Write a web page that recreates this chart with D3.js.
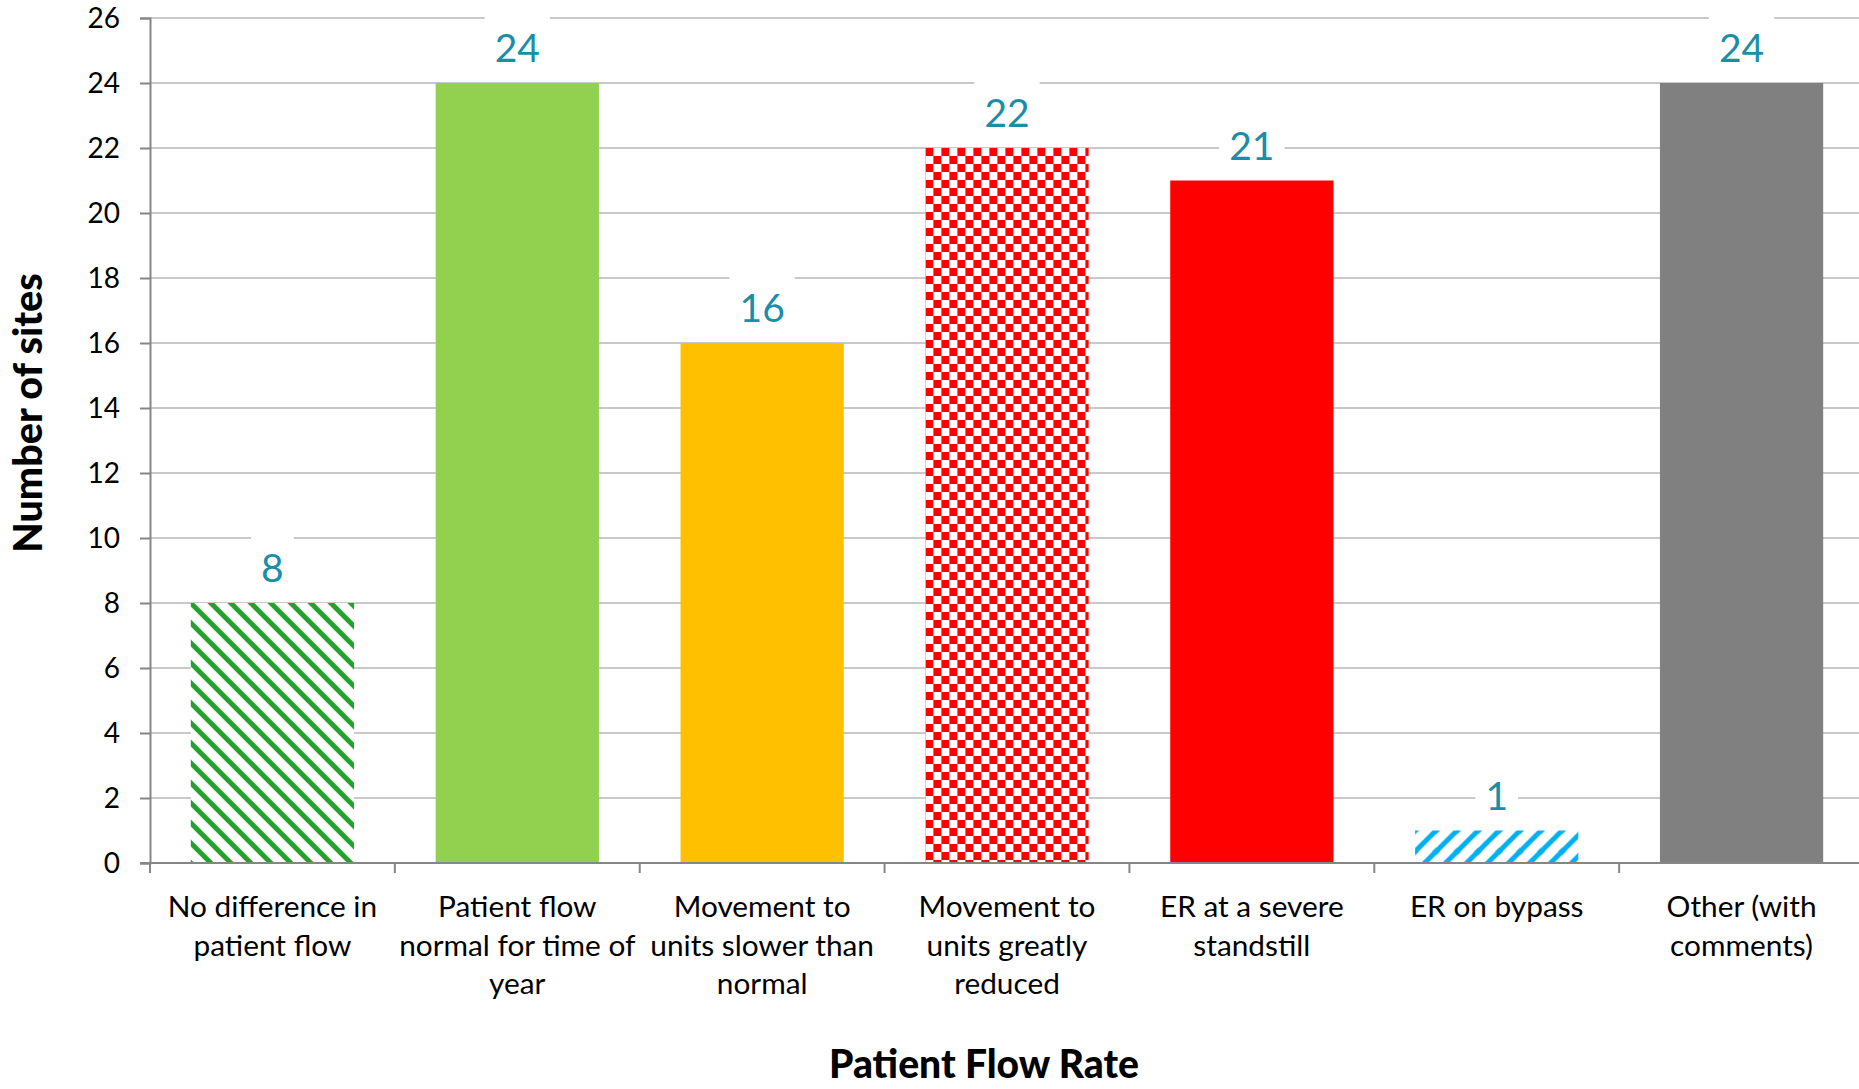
<!DOCTYPE html>
<html>
<head>
<meta charset="utf-8">
<script src="https://cdn.jsdelivr.net/npm/d3@7"></script>
<style>
  html, body { margin: 0; padding: 0; background: #ffffff; }
  svg { display: block; }
</style>
</head>
<body>
<svg id="chart" width="1859" height="1089"></svg>
<script>
// Survey responses: how patient flow was rated at each site
const categories = [
  ["No difference in", "patient flow"],
  ["Patient flow", "normal for time of", "year"],
  ["Movement to", "units slower than", "normal"],
  ["Movement to", "units greatly", "reduced"],
  ["ER at a severe", "standstill"],
  ["ER on bypass"],
  ["Other (with", "comments)"]
];
const values = [8, 24, 16, 22, 21, 1, 24];
const fills = ["url(#stripeGreen)", "#92d050", "#ffc000", "url(#checkRed)", "#ff0000", "url(#stripeBlue)", "#808080"];
const yTicks = [0, 2, 4, 6, 8, 10, 12, 14, 16, 18, 20, 22, 24, 26];
const yTitle = "Number of sites";
const xTitle = "Patient Flow Rate";

const svg = d3.select("#chart");
const font = "Lato, 'Open Sans', sans-serif";

const plotLeft = 150, plotRight = 1864, plotTop = 18, plotBottom = 863;

const x = d3.scaleBand()
  .domain(d3.range(values.length))
  .range([plotLeft, plotRight])
  .paddingInner(1 / 3)
  .paddingOuter(1 / 6);

const y = d3.scaleLinear().domain([0, 26]).range([plotBottom, plotTop]);

// fill patterns
const defs = svg.append("defs");

const pg = defs.append("pattern")
  .attr("id", "stripeGreen").attr("patternUnits", "userSpaceOnUse")
  .attr("width", 20).attr("height", 20)
  .attr("x", x(0)).attr("y", y(values[0]));
pg.append("rect").attr("width", 20).attr("height", 20).attr("fill", "#ffffff");
pg.append("path")
  .attr("d", "M-10,-10L30,30M-10,10L10,30M10,-10L30,10")
  .attr("stroke", "#22a12b").attr("stroke-width", 5);

const pb = defs.append("pattern")
  .attr("id", "stripeBlue").attr("patternUnits", "userSpaceOnUse")
  .attr("width", 21).attr("height", 21)
  .attr("x", x(5)).attr("y", y(values[5]));
pb.append("rect").attr("width", 21).attr("height", 21).attr("fill", "#ffffff");
pb.append("path")
  .attr("d", "M-10,31L31,-10M-10,10.5L10.5,-10M10.5,31L31,10.5")
  .attr("stroke", "#00b0f0").attr("stroke-width", 5);

const pc = defs.append("pattern")
  .attr("id", "checkRed").attr("patternUnits", "userSpaceOnUse")
  .attr("width", 16).attr("height", 16)
  .attr("x", x(3)).attr("y", y(values[3]));
pc.append("rect").attr("width", 16).attr("height", 16).attr("fill", "#ffffff");
pc.append("rect").attr("width", 8).attr("height", 8).attr("fill", "#ff0000");
pc.append("rect").attr("x", 8).attr("y", 8).attr("width", 8).attr("height", 8).attr("fill", "#ff0000");

// horizontal gridlines
svg.append("g")
  .selectAll("line")
  .data(yTicks.filter(d => d > 0))
  .join("line")
  .attr("x1", plotLeft).attr("x2", 1859)
  .attr("y1", d => y(d)).attr("y2", d => y(d))
  .attr("stroke", "#c9c9c9").attr("stroke-width", 2);

// bars
svg.append("g")
  .selectAll("rect")
  .data(values)
  .join("rect")
  .attr("x", (d, i) => x(i))
  .attr("y", d => y(d))
  .attr("width", x.bandwidth())
  .attr("height", d => y(0) - y(d))
  .attr("fill", (d, i) => fills[i]);

// y axis
const yAxis = svg.append("g")
  .attr("transform", `translate(${plotLeft},0)`)
  .call(d3.axisLeft(y).tickValues(yTicks).tickSize(10).tickPadding(20));
yAxis.select(".domain").attr("stroke", "#868686").attr("stroke-width", 2);
yAxis.selectAll(".tick line").attr("stroke", "#868686").attr("stroke-width", 2);
yAxis.selectAll(".tick text")
  .attr("font-family", font).attr("font-size", 28).attr("fill", "#000000")
  .attr("dy", "0.35em");

// x axis with boundary ticks between categories
svg.append("line")
  .attr("x1", plotLeft - 10).attr("x2", 1859)
  .attr("y1", plotBottom).attr("y2", plotBottom)
  .attr("stroke", "#868686").attr("stroke-width", 2);
svg.append("g")
  .selectAll("line")
  .data(d3.range(values.length + 1))
  .join("line")
  .attr("x1", i => x(0) - x.step() * x.paddingOuter() + i * x.step())
  .attr("x2", i => x(0) - x.step() * x.paddingOuter() + i * x.step())
  .attr("y1", plotBottom).attr("y2", plotBottom + 10)
  .attr("stroke", "#868686").attr("stroke-width", 2);

// category labels
const catG = svg.append("g")
  .attr("font-family", font).attr("font-size", 29.8).attr("fill", "#000000")
  .attr("text-anchor", "middle");
categories.forEach((lines, i) => {
  const t = catG.append("text")
    .attr("x", x(i) + x.bandwidth() / 2)
    .attr("y", 917);
  lines.forEach((ln, j) => {
    t.append("tspan")
      .attr("x", x(i) + x.bandwidth() / 2)
      .attr("y", 917 + j * 38.5)
      .text(ln);
  });
});

// value labels on white boxes
const lblG = svg.append("g");
values.forEach((v, i) => {
  const cx = x(i) + x.bandwidth() / 2;
  const cy = y(v) - 35;
  const g = lblG.append("g");
  const box = g.append("rect").attr("fill", "#ffffff");
  const t = g.append("text")
    .attr("x", cx).attr("y", cy)
    .attr("dy", "0.36em")
    .attr("text-anchor", "middle")
    .attr("font-family", font).attr("font-size", 39)
    .attr("fill", "#1a8ea9")
    .text(v);
  const w = t.node().getComputedTextLength() + 20;
  box.attr("x", cx - w / 2).attr("y", cy - 32).attr("width", w).attr("height", 64);
});

// axis titles
svg.append("text")
  .attr("transform", `translate(28,413) rotate(-90)`)
  .attr("dy", "0.35em")
  .attr("text-anchor", "middle")
  .attr("font-family", font).attr("font-weight", "900").attr("font-size", 39.5)
  .attr("fill", "#000000")
  .text(yTitle);

svg.append("text")
  .attr("x", 984).attr("y", 1064)
  .attr("dy", "0.35em")
  .attr("text-anchor", "middle")
  .attr("font-family", font).attr("font-weight", "900").attr("font-size", 39)
  .attr("fill", "#000000")
  .text(xTitle);
</script>
</body>
</html>
